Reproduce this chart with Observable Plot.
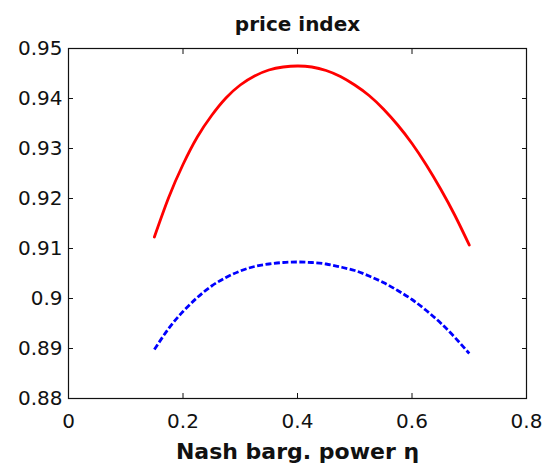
<!DOCTYPE html>
<html>
<head>
<meta charset="utf-8">
<script src="https://cdn.jsdelivr.net/npm/d3@7"></script>
<script src="https://cdn.jsdelivr.net/npm/@observablehq/plot@0.6"></script>
<style>
  html, body { margin: 0; padding: 0; background: #fff; }
  #chart svg { display: block; }
</style>
</head>
<body>
<div id="chart"></div>
<script>
const titleText = "price index";
const xLabelText = "Nash barg. power \u03b7";

const xTicks = [0, 0.2, 0.4, 0.6, 0.8];
const xTickLabels = ["0", "0.2", "0.4", "0.6", "0.8"];
const yTicks = [0.88, 0.89, 0.90, 0.91, 0.92, 0.93, 0.94, 0.95];
const yTickLabels = ["0.88", "0.89", "0.9", "0.91", "0.92", "0.93", "0.94", "0.95"];

// Nash bargaining power values (x) shared by both series
const eta = [0.150, 0.175, 0.200, 0.225, 0.250, 0.275, 0.300, 0.325, 0.350, 0.375, 0.400,
             0.425, 0.450, 0.475, 0.500, 0.525, 0.550, 0.575, 0.600, 0.625, 0.650, 0.675, 0.700];

// red (solid) series
const redVal = [0.9123, 0.9202, 0.9268, 0.9323, 0.9366, 0.9401, 0.9427, 0.9445, 0.9457, 0.9463, 0.9465,
                0.9463, 0.9456, 0.9444, 0.9427, 0.9406, 0.9379, 0.9347, 0.9310, 0.9267, 0.9219, 0.9166, 0.9107];

// blue (dashed) series
const blueVal = [0.8898, 0.8940, 0.8974, 0.9002, 0.9025, 0.9042, 0.9055, 0.9064, 0.9069, 0.9072, 0.9073,
                 0.9072, 0.9069, 0.9063, 0.9056, 0.9045, 0.9032, 0.9016, 0.8998, 0.8976, 0.8951, 0.8922, 0.8890];

const red = eta.map((x, i) => ({x, y: redVal[i]}));
const blue = eta.map((x, i) => ({x, y: blueVal[i]}));

const font = "'DejaVu Sans', 'Liberation Sans', Arial, sans-serif";
const ink = "#111";

const plot = Plot.plot({
  width: 542,
  height: 465,
  marginLeft: 68,
  marginRight: 16,
  marginTop: 48,
  marginBottom: 67,
  style: {fontFamily: font, background: "#fff", color: ink},
  x: {domain: [0, 0.8]},
  y: {domain: [0.88, 0.95]},
  marks: [
    Plot.frame({stroke: ink, strokeWidth: 1.2}),
    Plot.axisX({anchor: "bottom", ticks: xTicks, tickSize: -5, tickPadding: 20,
      tickFormat: (d) => xTickLabels[xTicks.indexOf(d)], fontSize: 20, label: null, stroke: ink, fill: ink}),
    Plot.axisX({anchor: "top", ticks: xTicks, tickSize: -5, fill: "none", label: null, stroke: ink}),
    Plot.axisY({anchor: "left", ticks: yTicks, tickSize: -5, tickPadding: 11,
      tickFormat: (d) => yTickLabels[yTicks.findIndex(t => Math.abs(t - d) < 1e-9)], fontSize: 20, label: null, stroke: ink, fill: ink}),
    Plot.axisY({anchor: "right", ticks: yTicks, tickSize: -5, fill: "none", label: null, stroke: ink}),
    Plot.line(red, {x: "x", y: "y", stroke: "#ff0000", strokeWidth: 2.8, curve: "natural"}),
    Plot.line(blue, {x: "x", y: "y", stroke: "#0000ff", strokeWidth: 2.8, curve: "natural",
      strokeDasharray: "6,2.5", strokeLinecap: "butt"}),
    Plot.text([titleText], {frameAnchor: "top", text: (d) => d, dy: -18, lineAnchor: "bottom",
      fontSize: 20, fontWeight: "bold", fill: ink}),
    Plot.text([xLabelText], {frameAnchor: "bottom", text: (d) => d, dy: 60, lineAnchor: "bottom",
      fontSize: 22, fontWeight: "bold", fill: ink})
  ]
});
document.getElementById("chart").appendChild(plot);
</script>
</body>
</html>
